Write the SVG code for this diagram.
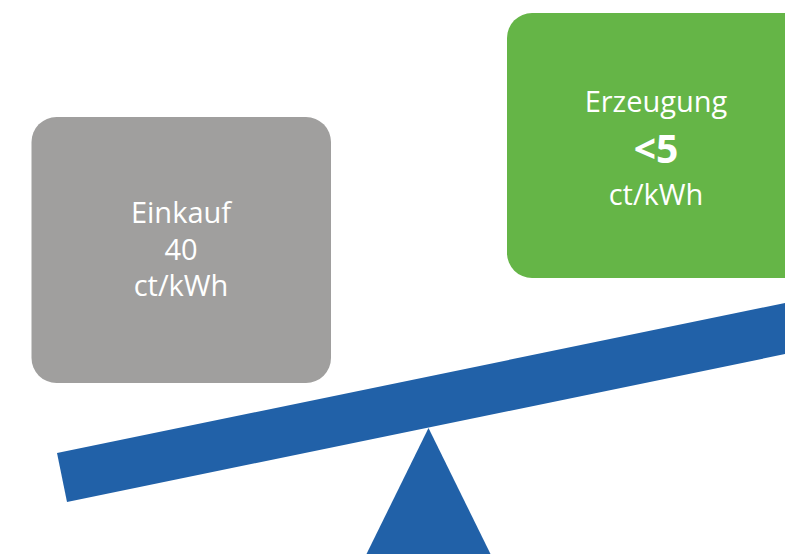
<svg xmlns="http://www.w3.org/2000/svg" width="785" height="554" viewBox="0 0 785 554">
<style>
.lbl{font-family:"Open Sans","Liberation Sans",sans-serif;font-size:29px;fill:#ffffff;text-anchor:middle}
.big{font-size:39px;font-weight:bold}
.shape{fill:#2161A8}
</style>
<rect width="785" height="554" fill="#ffffff"/>
<g id="beam">
<polygon class="shape" points="57,453 67,502 817,347.5 807,298.5"/>
</g>
<g id="fulcrum">
<polygon class="shape" points="428.5,428 366,555 491,555"/>
</g>
<g id="einkauf">
<rect x="31.5" y="117" width="299.5" height="266" rx="25" ry="25" fill="#A09F9E"/>
<text class="lbl" x="181" y="222.5">Einkauf</text>
<text class="lbl" x="181" y="259.5">40</text>
<text class="lbl" x="181" y="296">ct/kWh</text>
</g>
<g id="erzeugung">
<rect x="507" y="13" width="310" height="265" rx="25" ry="25" fill="#65B547"/>
<text class="lbl" x="656" y="111.5">Erzeugung</text>
<text class="lbl big" x="656" y="163">&lt;5</text>
<text class="lbl" x="656" y="205">ct/kWh</text>
</g>
<g id="connectors"/>
</svg>
